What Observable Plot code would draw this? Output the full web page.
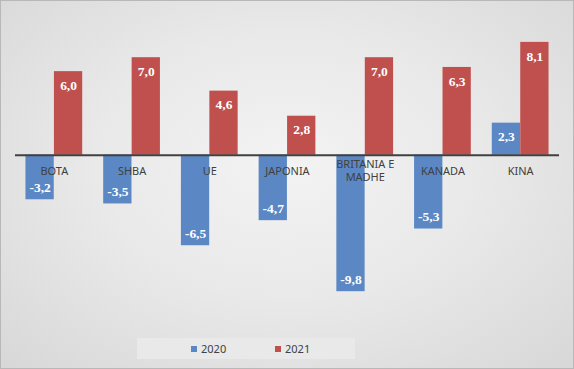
<!DOCTYPE html>
<html>
<head>
<meta charset="utf-8">
<script src="https://cdn.jsdelivr.net/npm/d3@7"></script>
<script src="https://cdn.jsdelivr.net/npm/@observablehq/plot@0.6"></script>
<style>
  html, body { margin: 0; padding: 0; }
  #wrap {
    position: relative; width: 574px; height: 369px; box-sizing: border-box;
    border: 1px solid #b8b8b8;
    background: radial-gradient(ellipse 75% 80% at 50% 45%, #f3f3f3 0%, #e9e9e9 45%, #d6d6d6 100%);
    overflow: hidden;
  }
  #chart { position: absolute; left: -1px; top: -1px; }
  #legend {
    position: absolute; left: 136px; top: 337px; width: 218px; height: 21px;
    background: #e9e9e9;
    font-family: "Noto Sans", "Liberation Sans", sans-serif; font-size: 11px; color: #404040;
  }
  .item { position: absolute; top: 3px; line-height: 15px; }
  .sw { display: inline-block; width: 6px; height: 6px; margin-right: 4px; vertical-align: 1px; }
</style>
</head>
<body>
<div id="wrap">
  <div id="chart"></div>
  <div id="legend"></div>
</div>
<script>
const categories = ["BOTA", "SHBA", "UE", "JAPONIA", "BRITANIA E\nMADHE", "KANADA", "KINA"];
const series = ["2020", "2021"];
const values2020 = [-3.2, -3.5, -6.5, -4.7, -9.8, -5.3, 2.3];
const values2021 = [6.0, 7.0, 4.6, 2.8, 7.0, 6.3, 8.1];
const colors = ["#5B88C4", "#C0504D"];

const data = [];
categories.forEach((c, i) => {
  data.push({cat: c, series: series[0], value: values2020[i]});
  data.push({cat: c, series: series[1], value: values2021[i]});
});
const fmt = v => v.toFixed(1).replace(".", ",");
const labelFont = {fill: "white", fontWeight: "bold", fontSize: 13.5, fontFamily: "'Liberation Serif', 'DejaVu Serif', serif"};
const s0 = data.filter(d => d.series === series[0]);
const s1 = data.filter(d => d.series === series[1]);

const valueLabels = (rows, dx) => [
  Plot.text(rows.filter(d => d.value >= 0), {x: "cat", y: "value", text: d => fmt(d.value), dx, dy: 14, ...labelFont}),
  Plot.text(rows.filter(d => d.value < 0), {x: "cat", y: "value", text: d => fmt(d.value), dx, dy: -12, ...labelFont})
];

const chart = Plot.plot({
  width: 574,
  height: 330,
  marginLeft: 15,
  marginRight: 14,
  marginTop: 29.4,
  marginBottom: 35.5,
  style: {background: "transparent"},
  x: {domain: categories, paddingInner: 0.27, paddingOuter: 0.135, round: false, axis: null},
  y: {domain: [-10, 9], axis: null},
  color: {domain: series, range: colors},
  marks: [
    Plot.barY(s0, {x: "cat", y: "value", fill: "series", insetRight: 28.5}),
    Plot.barY(s1, {x: "cat", y: "value", fill: "series", insetLeft: 28.5}),
    Plot.ruleY([0], {stroke: "#404040", strokeWidth: 2}),
    Plot.text(categories, {x: d => d, y: 0, text: d => d, dy: 15, lineAnchor: "middle", lineHeight: 1.25,
      fill: "#404040", fontSize: 11, fontFamily: "'Noto Sans', 'Liberation Sans', sans-serif"}),
    ...valueLabels(s0, -14.25),
    ...valueLabels(s1, 14.25)
  ]
});
document.getElementById("chart").appendChild(chart);

const legend = document.getElementById("legend");
const pos = [54, 138];
series.forEach((s, i) => {
  const el = document.createElement("div");
  el.className = "item";
  el.style.left = pos[i] + "px";
  el.innerHTML = `<span class="sw" style="background:${colors[i]}"></span>${s}`;
  legend.appendChild(el);
});
</script>
</body>
</html>
